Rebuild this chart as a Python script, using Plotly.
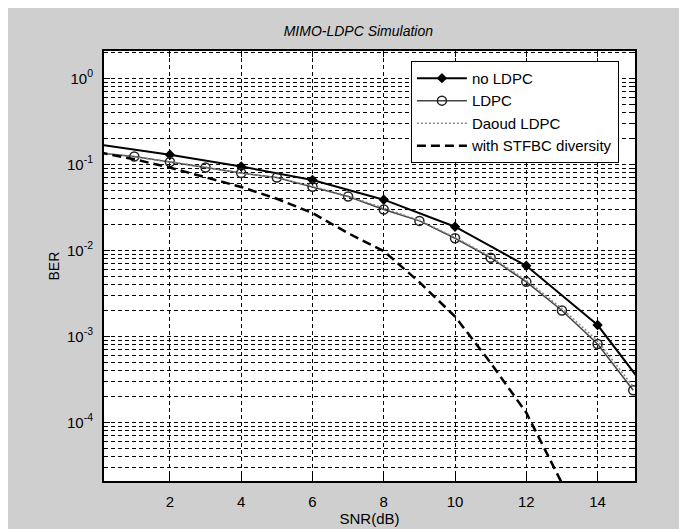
import plotly.graph_objects as go

# ---- data ----
snr_no = [0, 2, 4, 6, 8, 10, 12, 14, 16]
ber_no = [0.171, 0.130, 0.0949, 0.066, 0.039, 0.0189, 0.00664, 0.00136, 0.000112]

snr_ldpc = [0, 1, 2, 3, 4, 5, 6, 7, 8, 9, 10, 11, 12, 13, 14, 15]
ber_ldpc = [0.136, 0.124, 0.107, 0.0924, 0.0796, 0.0706, 0.0552, 0.0425, 0.030,
            0.0221, 0.0139, 0.00824, 0.00432, 0.00201, 0.000817, 0.000237]

snr_daoud = [0, 1, 2, 3, 4, 5, 6, 7, 8, 9, 10, 11, 12, 13, 14, 15]
ber_daoud = [0.138, 0.122, 0.108, 0.0935, 0.0790, 0.0700, 0.0560, 0.0430, 0.0310,
             0.0225, 0.0142, 0.0085, 0.00450, 0.00212, 0.00089, 0.000262]

snr_stfbc = [0, 1, 2, 3, 4, 5, 6, 7, 8, 9, 10, 11, 12, 13, 14]
ber_stfbc = [0.139, 0.115, 0.092, 0.0711, 0.0548, 0.040, 0.0273, 0.0159, 0.00986,
             0.00428, 0.00171, 0.000493, 0.000130, 0.0000197, 0.0000015]

x_ticks = [2, 4, 6, 8, 10, 12, 14]
y_ticks = [1e0, 1e-1, 1e-2, 1e-3, 1e-4]
y_tick_text = ["10<sup>0</sup>", "10<sup>-1</sup>", "10<sup>-2</sup>",
               "10<sup>-3</sup>", "10<sup>-4</sup>"]
y_minor = [d * 10.0 ** k for k in range(-5, 1) for d in range(2, 10)]

FONT = "Liberation Sans, Arial, sans-serif"

fig = go.Figure()
fig.add_trace(go.Scatter(
    x=snr_no, y=ber_no, name="no LDPC", mode="lines+markers",
    line=dict(color="black", width=2),
    marker=dict(symbol="diamond", size=8, color="black")))
fig.add_trace(go.Scatter(
    x=snr_ldpc, y=ber_ldpc, name="LDPC", mode="lines+markers",
    line=dict(color="#444444", width=1.5),
    marker=dict(symbol="circle-open", size=9, color="#222222",
                line=dict(width=1.5))))
fig.add_trace(go.Scatter(
    x=snr_daoud, y=ber_daoud, name="Daoud LDPC", mode="lines",
    line=dict(color="#8a8a8a", width=1.5, dash="2px,2px")))
fig.add_trace(go.Scatter(
    x=snr_stfbc, y=ber_stfbc, name="with STFBC diversity", mode="lines",
    line=dict(color="black", width=2.5, dash="9px,5px")))

fig.update_layout(
    width=687, height=529,
    margin=dict(l=96, r=60, t=43, b=47),
    paper_bgcolor="#cfcfcf",
    plot_bgcolor="white",
    font=dict(family=FONT, size=15, color="black"),
    title=dict(text="<i>MIMO-LDPC Simulation</i>", xref="container", x=0.51,
               xanchor="center", yref="container", y=0.957, yanchor="middle",
               font=dict(size=14, family=FONT)),
    showlegend=True,
    legend=dict(x=0.578, y=0.977, xanchor="left", yanchor="top",
                bgcolor="white", bordercolor="black", borderwidth=1,
                font=dict(size=15, family=FONT), itemwidth=50,
                tracegroupgap=0),
    annotations=[dict(text="BER", textangle=-90, xref="paper", yref="paper",
                      x=-0.094, y=0.499, xanchor="center", yanchor="middle",
                      showarrow=False, font=dict(size=14, family=FONT))],
)

fig.update_xaxes(
    range=[0.15, 15.05], tickvals=x_ticks, ticktext=[str(v) for v in x_ticks],
    showline=True, linecolor="black", linewidth=2, mirror="ticks",
    ticks="inside", ticklen=6, tickcolor="black",
    showgrid=True, gridcolor="black", gridwidth=1, griddash="4px,3px",
    zeroline=False, ticklabelstandoff=6,
    title=dict(text="SNR(dB)", standoff=4, font=dict(size=15)),
)
fig.update_yaxes(
    type="log", range=[-4.68, 0.32], tickvals=y_ticks, ticktext=y_tick_text,
    showline=True, linecolor="black", linewidth=2, mirror="ticks",
    ticks="inside", ticklen=6, tickcolor="black",
    showgrid=True, gridcolor="black", gridwidth=1, griddash="4px,3px",
    zeroline=False, ticklabelstandoff=6,
    minor=dict(tickvals=y_minor, ticks="inside", ticklen=3, tickcolor="black",
               showgrid=True, gridcolor="black", gridwidth=1, griddash="4px,3px"),
)

fig.write_html("out.html")
